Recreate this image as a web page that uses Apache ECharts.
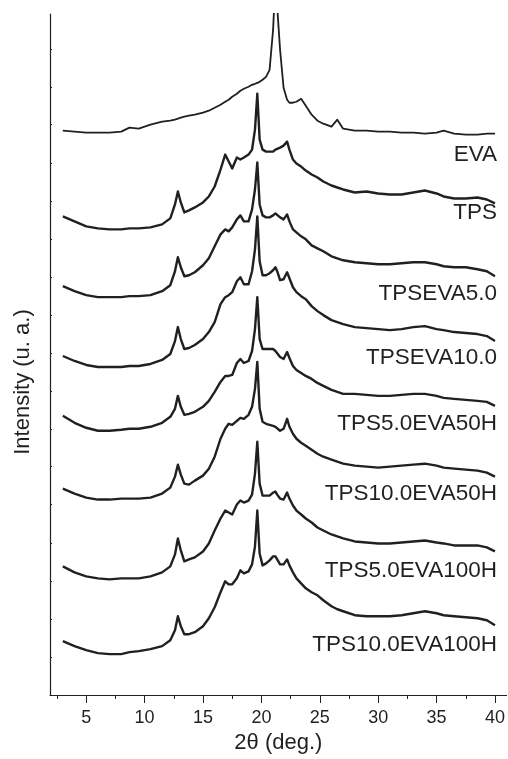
<!DOCTYPE html>
<html>
<head>
<meta charset="utf-8">
<script src="https://cdn.jsdelivr.net/npm/echarts@6.0.0/dist/echarts.min.js"></script>
<style>
html,body{margin:0;padding:0;background:#fff;}
#chart{width:508px;height:759px;}
</style>
</head>
<body>
<div id="chart"></div>
<script>
// 2θ sampling positions (degrees)
const twoTheta = [3,4,5,6,7,8,8.7,9.5,10.5,11.5,12.2,12.6,12.85,13.1,13.4,13.8,14.3,15,15.5,16,16.5,16.9,17.2,17.5,17.9,18.2,18.5,18.9,19.2,19.45,19.65,19.85,20.1,20.4,20.7,21.0,21.2,21.35,21.6,21.9,22.2,22.4,22.7,23.0,23.4,23.8,24.3,24.8,25.3,26.0,26.5,27,28,29,30,31,32,33,34,35,35.6,36.5,37.5,38.5,39.3,40];

// stacked intensities (arbitrary units, offsets included)
const EVA = [566,565,564,564,564,565,569,568,572,575,576,577,578,579,580,581,582,584,586,589,592,595,597,600,603,606,608,610,612,613,614,615,617,620,627,667,717,717,647,609,597,594,594,595,598,591,582,576,573,570,577,568,566,566,565,565,564,564,563,564,566,563,562,562,563,563];
const TPS = [480,475,470,468,467,467,468,468,469,472,478,492,505,494,484,486,489,494,500,510,527,542,535,528,539,537,539,542,547,567,603,557,547,545,545,545,547,547,549,551,555,547,537,533,530,526,522,519,515,511,509,507,504,505,503,502,502,504,506,503,500,498,498,499,497,493];
const TPSEVA5 = [410,405,401,399,399,399,400,400,401,405,411,425,439,429,420,421,424,431,438,450,462,467,465,469,477,481,475,475,487,507,534,492,481,479,479,481,483,484,479,477,482,475,467,464,460,457,451,448,445,440,438,436,434,433,432,432,433,434,434,432,430,429,429,427,425,420];
const TPSEVA10 = [340,335,331,329,329,329,330,330,332,336,342,355,369,357,347,348,351,357,364,374,392,399,401,404,415,419,412,412,425,447,480,435,421,421,423,426,429,425,416,417,424,418,409,404,400,397,390,385,381,376,374,372,369,368,367,366,367,369,370,367,366,364,363,362,360,355];
const TPS5EVA50H = [280,273,268,265,265,266,267,267,269,273,279,287,300,289,281,282,284,289,295,304,314,320,320,321,333,337,333,335,345,367,399,357,347,347,347,347,345,343,339,337,344,338,330,326,323,320,317,313,310,306,304,302,302,301,300,300,301,302,302,300,298,297,296,295,294,290];
const TPS10EVA50H = [207,202,198,196,196,197,197,197,198,202,208,219,231,221,212,211,215,220,227,239,257,267,272,271,275,278,277,281,289,307,334,287,274,272,271,270,269,268,265,267,277,269,262,257,253,250,246,242,239,236,234,232,230,229,228,229,230,231,232,230,228,227,226,225,223,219];
const TPS5EVA100H = [129,123,119,117,116,117,117,117,119,123,129,141,157,145,134,136,138,144,152,165,177,185,183,181,191,195,193,195,201,222,254,212,200,200,200,203,204,201,197,196,203,197,190,185,181,177,173,168,165,161,159,157,154,153,152,152,153,154,155,153,152,150,150,150,148,144];
const TPS10EVA100H = [54,49,45,42,41,41,43,44,46,49,55,65,79,69,61,61,63,69,77,88,103,114,111,111,117,125,122,124,131,149,185,142,130,132,135,139,139,136,131,131,136,130,123,117,112,107,103,100,95,89,86,84,80,79,79,79,80,82,84,82,80,79,78,77,75,70];

const seriesNames = ['EVA','TPS','TPSEVA5.0','TPSEVA10.0','TPS5.0EVA50H','TPS10.0EVA50H','TPS5.0EVA100H','TPS10.0EVA100H'];
const seriesValues = [EVA,TPS,TPSEVA5,TPSEVA10,TPS5EVA50H,TPS10EVA50H,TPS5EVA100H,TPS10EVA100H];

const xMajorTicks = [5,10,15,20,25,30,35,40];
const xMinorTicks = [2.5,7.5,12.5,17.5,22.5,27.5,32.5,37.5];
const yTicks = [38,76,114,152,191,229,267,305,343,381,419,457,495,533,572,610,648];

// label vertical centres (px) for the sample names
const labelY = [155,213,294,358,424,494,571,645];

const ink = '#231f20';
const font = 'Liberation Sans, Arial, Helvetica, sans-serif';

const chart = echarts.init(document.getElementById('chart'), null, {renderer:'canvas'});

const series = seriesNames.map((n,k)=>({
  name:n, type:'line', xAxisIndex:0, yAxisIndex:0,
  showSymbol:false, symbol:'none', smooth:false, clip:true,
  lineStyle:{color:ink, width: k===0 ? 1.8 : 2.4, join:'round'},
  data: twoTheta.map((x,i)=>[x, seriesValues[k][i]]),
  animation:false
}));

const graphics = seriesNames.map((n,k)=>({
  type:'text', x:497, y:labelY[k],
  style:{text:n, fill:ink, font:'22.5px '+font, textAlign:'right', textVerticalAlign:'middle'}
}));
graphics.push({
  type:'text', x:23, y:382, rotation:Math.PI/2,
  style:{text:'Intensity (u. a.)', fill:ink, font:'22px '+font, textAlign:'center', textVerticalAlign:'middle'}
});

chart.setOption({
  animation:false,
  backgroundColor:'#fff',
  grid:{left:50, right:0, top:14, bottom:62},
  xAxis:[{
    type:'value', min:1.9, max:41, position:'bottom',
    name:'2θ (deg.)', nameLocation:'middle', nameGap:37,
    nameTextStyle:{color:ink, fontSize:22, fontFamily:font},
    axisLine:{show:true, lineStyle:{color:ink, width:1}},
    axisTick:{show:true, inside:false, length:8, customValues:xMajorTicks, lineStyle:{color:ink, width:1}},
    axisLabel:{show:true, customValues:xMajorTicks, margin:14, color:ink, fontSize:18, fontFamily:font},
    splitLine:{show:false}
  },{
    type:'value', min:1.9, max:41, position:'bottom', gridIndex:0,
    axisLine:{show:false},
    axisTick:{show:true, inside:false, length:4, customValues:xMinorTicks, lineStyle:{color:ink, width:1}},
    axisLabel:{show:false},
    splitLine:{show:false}
  }],
  yAxis:[{
    type:'value', min:0, max:683,
    axisLine:{show:true, lineStyle:{color:ink, width:1.2}},
    axisTick:{show:true, inside:true, length:2, customValues:yTicks, lineStyle:{color:ink, width:1}},
    axisLabel:{show:false},
    splitLine:{show:false}
  }],
  series: series,
  graphic: graphics
});
</script>
</body>
</html>
